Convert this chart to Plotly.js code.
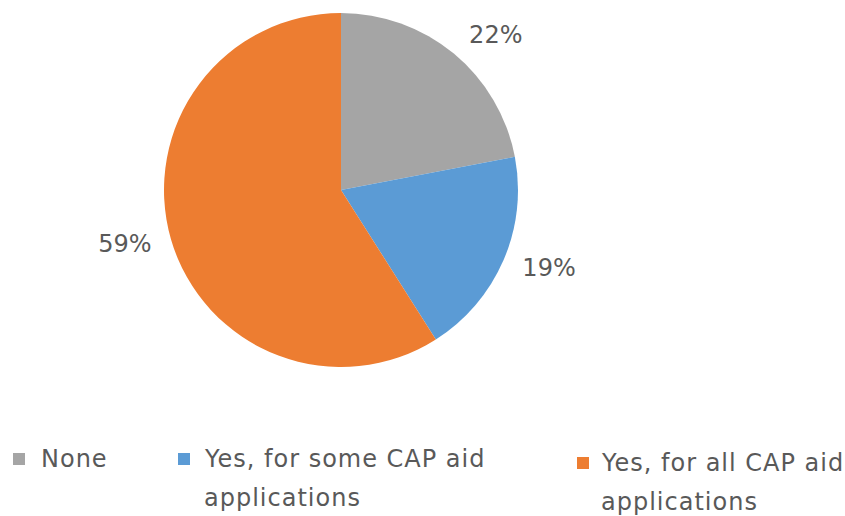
<!DOCTYPE html>
<html><head><meta charset="utf-8">
<script src="https://cdn.plot.ly/plotly-3.0.1.min.js"></script>
<style>html,body{margin:0;padding:0;background:#fff}#c{width:845px;height:516px}
#c .annotation-text{letter-spacing:1px}</style>
</head><body><div id="c"></div>
<script>
const categories = ["None", "Yes, for some CAP aid<br>applications", "Yes, for all CAP aid<br>applications"];
const values = [22, 19, 59];
const colors = ["#A5A5A5", "#5B9BD5", "#ED7D31"];

const W = 845, H = 516;
const font = "DejaVu Sans, sans-serif";
const textColor = "#595959";
// legend layout (pixels): square left edge, text left edge, first-line centre
const legendSquareX = [13, 178, 577];
const legendTextX = [40, 203, 600];
const legendRowY = [459, 459, 463];
const legendLineGap = 39;

const shapes = [], annotations = [];
categories.forEach((c, i) => {
  shapes.push({type: "rect", xref: "paper", yref: "paper",
    x0: legendSquareX[i] / W, x1: (legendSquareX[i] + 12) / W,
    y0: 1 - (legendRowY[i] + 6) / H, y1: 1 - (legendRowY[i] - 6) / H,
    fillcolor: colors[i], line: {width: 0}});
  c.split("<br>").forEach((line, j) => {
    annotations.push({xref: "paper", yref: "paper",
      x: legendTextX[i] / W, y: 1 - (legendRowY[i] + j * legendLineGap) / H,
      xanchor: "left", yanchor: "middle", align: "left", showarrow: false,
      borderpad: 0, text: line, font: {family: font, size: 24, color: textColor}});
  });
});

const cx = 341, cy = 190, r = 177, rText = 190;
Plotly.newPlot("c", [{
  type: "pie", values: values, labels: categories,
  marker: {colors: colors, line: {width: 0}},
  sort: false, direction: "clockwise", rotation: 0,
  textinfo: "none",
  domain: {x: [(cx - r) / W, (cx + r) / W], y: [1 - (cy + r) / H, 1 - (cy - r) / H]},
  showlegend: false, hoverinfo: "none"
}, {
  // transparent ring used only to carry the percentage labels a little further out
  type: "pie", values: values, labels: categories,
  marker: {colors: ["rgba(0,0,0,0)", "rgba(0,0,0,0)", "rgba(0,0,0,0)"], line: {width: 0}},
  sort: false, direction: "clockwise", rotation: 0,
  textinfo: "percent", textposition: "outside",
  outsidetextfont: {family: font, size: 24, color: textColor},
  domain: {x: [(cx - rText) / W, (cx + rText) / W], y: [1 - (cy + rText) / H, 1]},
  showlegend: false, hoverinfo: "none"
}], {
  width: W, height: H, margin: {l: 0, r: 0, t: 0, b: 0},
  paper_bgcolor: "#fff", showlegend: false,
  shapes: shapes, annotations: annotations
}, {staticPlot: true});
</script></body></html>
